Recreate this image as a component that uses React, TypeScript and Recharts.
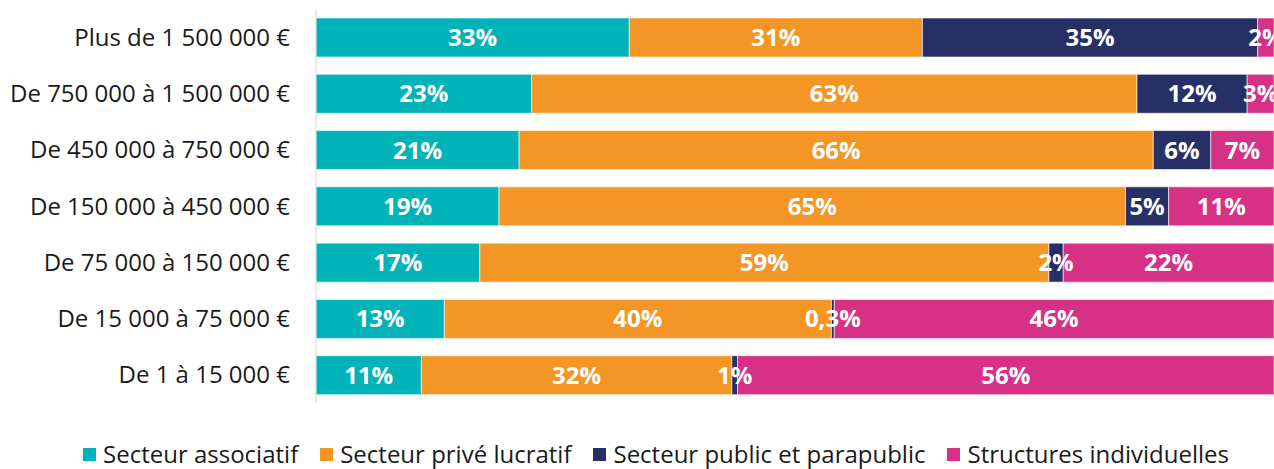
import { Bar, BarChart, LabelList, Legend, XAxis, YAxis } from "recharts";

const categories = [
  "Plus de 1 500 000 €",
  "De 750 000 à 1 500 000 €",
  "De 450 000 à 750 000 €",
  "De 150 000 à 450 000 €",
  "De 75 000 à 150 000 €",
  "De 15 000 à 75 000 €",
  "De 1 à 15 000 €",
];

const associatif = [32.7, 22.5, 21.2, 19.1, 17.1, 13.4, 11.0];
const priveLucratif = [30.6, 63.2, 66.2, 65.4, 59.4, 40.4, 32.4];
const publicParapublic = [35.0, 11.5, 6.0, 4.5, 1.5, 0.3, 0.6];
const individuelles = [1.7, 2.8, 6.6, 11.0, 22.0, 45.9, 56.0];

const series = [
  { key: "associatif", name: "Secteur associatif", color: "#00B3B8", values: associatif },
  { key: "prive", name: "Secteur privé lucratif", color: "#F39625", values: priveLucratif },
  { key: "public", name: "Secteur public et parapublic", color: "#262F66", values: publicParapublic },
  { key: "indiv", name: "Structures individuelles", color: "#D63087", values: individuelles },
];

const data = categories.map((name, i) => {
  const row: Record<string, string | number> = { name };
  series.forEach((s) => {
    row[s.key] = s.values[i];
  });
  return row;
});

const FONT = "'Open Sans', sans-serif";

// rounded like the source, small shares keep one decimal with a comma
const formatPct = (v: unknown) => {
  const n = Number(v);
  if (n < 0.5) return `${n.toFixed(1).replace(".", ",")}%`;
  return `${Math.round(n)}%`;
};

function LegendContent() {
  return (
    <div
      style={{
        display: "flex",
        justifyContent: "center",
        paddingLeft: 60,
        fontFamily: FONT,
        fontSize: 24,
        color: "#1a1a1a",
        lineHeight: "26px",
      }}
    >
      {series.map((s) => (
        <div
          key={s.key}
          style={{ display: "flex", alignItems: "center", marginRight: 22 }}
        >
          <span
            style={{
              width: 13,
              height: 13,
              background: s.color,
              marginRight: 7,
              display: "inline-block",
            }}
          />
          <span>{s.name}</span>
        </div>
      ))}
    </div>
  );
}

export default function App() {
  return (
    <div style={{ position: "absolute", left: 0, top: 0, width: 1274, height: 469 }}>
      <BarChart
        width={1274}
        height={469}
        data={data}
        layout="vertical"
        margin={{ top: 9, right: 0, left: 0, bottom: 40 }}
        barSize={39}
      >
        <XAxis type="number" domain={[0, 100]} hide />
        <YAxis
          dataKey="name"
          type="category"
          width={316}
          tickLine={false}
          tickMargin={20}
          axisLine={{ stroke: "#d4d4d4" }}
          tick={{ fontFamily: FONT, fontSize: 24, fill: "#1a1a1a" }}
          interval={0}
        />
        <Legend
          verticalAlign="bottom"
          content={<LegendContent />}
          wrapperStyle={{ bottom: 2 }}
        />
        {series.map((s) => (
          <Bar
            key={s.key}
            dataKey={s.key}
            name={s.name}
            stackId="a"
            fill={s.color}
            stroke="rgba(255,255,255,0.6)"
            strokeWidth={1}
            isAnimationActive={false}
          >
            <LabelList
              dataKey={s.key}
              position="center"
              formatter={formatPct}
              fill="#ffffff"
              style={{ fontFamily: FONT, fontSize: 24, fontWeight: 700 }}
            />
          </Bar>
        ))}
      </BarChart>
    </div>
  );
}
